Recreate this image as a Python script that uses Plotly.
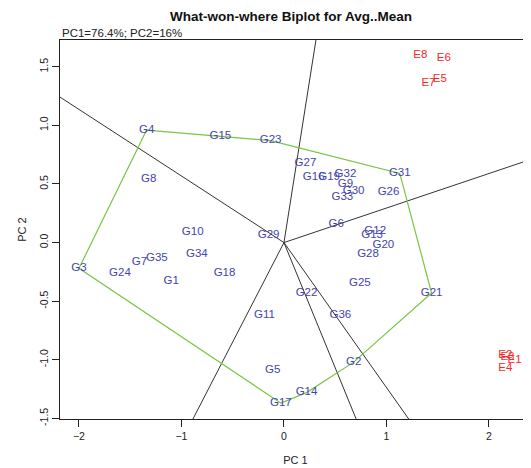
import plotly.graph_objects as go

# genotype scores (PC1, PC2)
gen_names = ["G1", "G2", "G3", "G4", "G5", "G6", "G7", "G8", "G9", "G10",
             "G11", "G12", "G13", "G14", "G15", "G16", "G17", "G18", "G19", "G20",
             "G21", "G22", "G23", "G24", "G25", "G26", "G27", "G28", "G29", "G30",
             "G31", "G32", "G33", "G34", "G35", "G36"]
gen_pc1 = [-1.10, 0.68, -2.00, -1.34, -0.11, 0.51, -1.41, -1.32, 0.60, -0.89,
           -0.19, 0.89, 0.86, 0.22, -0.62, 0.29, -0.03, -0.58, 0.44, 0.97,
           1.44, 0.22, -0.13, -1.60, 0.74, 1.02, 0.21, 0.82, -0.15, 0.68,
           1.13, 0.60, 0.57, -0.85, -1.24, 0.55]
gen_pc2 = [-0.33, -1.02, -0.22, 0.96, -1.09, 0.16, -0.17, 0.54, 0.50, 0.09,
           -0.62, 0.10, 0.06, -1.28, 0.91, 0.56, -1.37, -0.26, 0.56, -0.02,
           -0.43, -0.43, 0.87, -0.26, -0.35, 0.43, 0.68, -0.10, 0.06, 0.44,
           0.59, 0.58, 0.39, -0.10, -0.13, -0.62]

# environment scores
env_names = ["E1", "E2", "E3", "E4", "E5", "E6", "E7", "E8"]
env_pc1 = [2.25, 2.16, 2.18, 2.16, 1.52, 1.56, 1.41, 1.33]
env_pc2 = [-1.00, -0.96, -0.98, -1.07, 1.39, 1.57, 1.36, 1.60]

# polygon vertices (outermost genotypes) in drawing order
hull = ["G4", "G15", "G23", "G31", "G21", "G2", "G14", "G17", "G3"]

# sector boundary directions from the origin
ray_pc1 = [-2.185, 0.312, 2.41, 1.213, 0.702, -0.885]
ray_pc2 = [1.241, 1.728, 0.71, -1.5, -1.5, -1.5]

FONT = "Liberation Sans, Arial, sans-serif"
BLUE = "#4343B0"
RED = "#F22A2A"

# page body has an 8px margin, so the figure is sized/offset to fit the window
W, H = 523, 460

fig = go.Figure()

# sector lines
for rx, ry in zip(ray_pc1, ray_pc2):
    fig.add_trace(go.Scatter(x=[0, rx * 2], y=[0, ry * 2], mode="lines",
                             line=dict(color="#333333", width=1), hoverinfo="skip"))

# polygon
idx = [gen_names.index(g) for g in hull] + [gen_names.index(hull[0])]
fig.add_trace(go.Scatter(x=[gen_pc1[i] for i in idx], y=[gen_pc2[i] for i in idx],
                         mode="lines", line=dict(color="#7AC443", width=1.2),
                         hoverinfo="skip"))

fig.add_trace(go.Scatter(x=gen_pc1, y=gen_pc2, mode="text", text=gen_names,
                         textfont=dict(color=BLUE, size=11.5, family=FONT)))
fig.add_trace(go.Scatter(x=env_pc1, y=env_pc2, mode="text", text=env_names,
                         textfont=dict(color=RED, size=11.5, family=FONT),
                         cliponaxis=False))

fig.update_xaxes(range=[-2.185, 2.41], tickvals=[-2, -1, 0, 1, 2],
                 showline=True, mirror=True, linecolor="#222", linewidth=1,
                 ticks="outside", ticklen=7, tickcolor="#222",
                 tickfont=dict(size=10.5),
                 showgrid=False, zeroline=False,
                 title=dict(text="PC 1", standoff=15, font=dict(size=11)))
fig.update_yaxes(range=[-1.505, 1.728], tickvals=[-1.5, -1.0, -0.5, 0.0, 0.5, 1.0, 1.5],
                 ticktext=["-1.5", "-1.0", "-0.5", "0.0", "0.5", "1.0", "1.5"],
                 tickangle=-90, tickfont=dict(size=10.5),
                 showline=True, mirror=False, linecolor="#222", linewidth=1,
                 ticks="outside", ticklen=7, tickcolor="#222",
                 showgrid=False, zeroline=False,
                 title=dict(text="PC 2", standoff=8, font=dict(size=11)))

fig.update_layout(
    width=W, height=H,
    margin=dict(l=52, r=0, t=32, b=49),
    plot_bgcolor="white", paper_bgcolor="white",
    showlegend=False,
    font=dict(family=FONT, size=10, color="#222"),
    title=dict(text="<b>What-won-where Biplot for Avg..Mean</b>",
               x=283 / W, xanchor="center", y=1 - 8 / H, yanchor="middle",
               font=dict(size=13.5, color="#111")),
)
fig.add_annotation(text="PC1=76.4%; PC2=16%", xref="paper", yref="paper",
                   x=0, xanchor="left", y=1, yanchor="bottom", yshift=-1,
                   showarrow=False, font=dict(size=11.5, color="#222"))

fig.write_html("out.html")
